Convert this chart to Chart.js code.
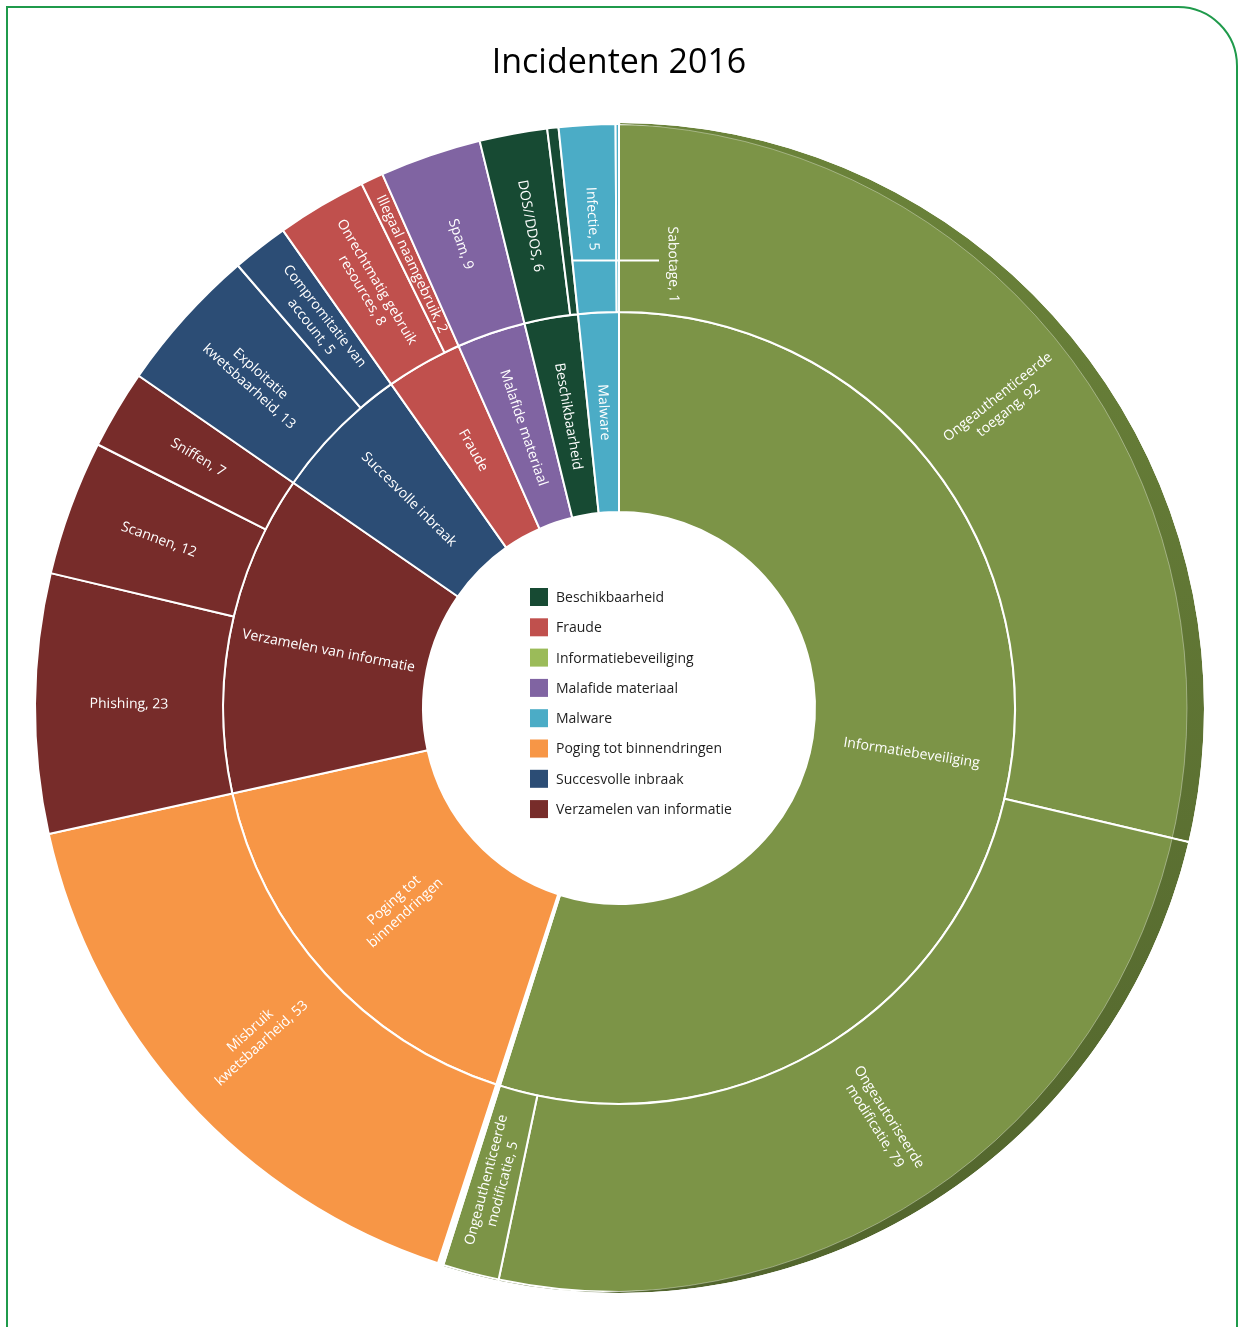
<!DOCTYPE html>
<html>
<head>
<meta charset="utf-8">
<script src="https://cdn.jsdelivr.net/npm/chart.js@4/dist/chart.umd.min.js"></script>
<style>
html,body{margin:0;padding:0;background:#fff;}
#wrap{position:relative;width:1245px;height:1327px;overflow:hidden;}
#frame{position:absolute;left:6px;top:6px;width:1232px;height:1400px;border:2px solid #1f9a4b;border-top-right-radius:60px;box-sizing:border-box;}
#box{position:absolute;left:0;top:0;width:1245px;height:1327px;}
</style>
</head>
<body>
<div id="wrap">
  <div id="frame"></div>
  <div id="box"><canvas id="c"></canvas></div>
</div>
<script>
// ---- data ----
const chartTitle = 'Incidenten 2016';

// inner ring categories (clockwise from top); '\n' marks a line break in the ring label
const innerNames = ['Informatiebeveiliging', '', 'Poging tot\nbinnendringen', 'Verzamelen van informatie',
  'Succesvolle inbraak', 'Fraude', 'Malafide materiaal', 'Beschikbaarheid', 'Malware'];

// outer ring sub-categories (clockwise from top)
const subNames = ['Ongeauthenticeerde\ntoegang', 'Ongeautoriseerde\nmodificatie', 'Ongeauthenticeerde\nmodificatie', '',
  'Misbruik\nkwetsbaarheid', 'Phishing', 'Scannen', 'Sniffen',
  'Exploitatie\nkwetsbaarheid', 'Compromitatie van\naccount',
  'Onrechtmatig gebruik\nresources', 'Illegaal naamgebruik',
  'Spam', 'DOS//DDOS', 'Sabotage', 'Infectie', ''];
const subValues = [92, 79, 5, 0.5, 53, 23, 12, 7, 13, 5, 8, 2, 9, 6, 1, 5, 0.3];
const subParent = [0, 0, 0, 1, 2, 3, 3, 3, 4, 4, 5, 5, 6, 7, 7, 8, 8];

// ---- styles ----
const sliceColors = ['#7C9447', '#FFFFFF', '#F79646', '#772C2A', '#2C4D75', '#C0504D', '#8064A2', '#174A33', '#4BACC6'];
const legendColors = ['#9BBB59', null, '#F79646', '#772C2A', '#2C4D75', '#C0504D', '#8064A2', '#174A33', '#4BACC6'];
const FONT = "'Open Sans', 'Noto Sans', sans-serif";

// inner values are the sums of their sub-categories
const innerValues = innerNames.map((_, k) =>
  subValues.reduce((s, v, i) => s + (subParent[i] === k ? v : 0), 0));
const subLabels = subNames.map((n, i) => n ? n + ', ' + subValues[i] : '');

function norm(a){ while (a > Math.PI) a -= 2*Math.PI; while (a < -Math.PI) a += 2*Math.PI; return a; }

function drawRingLabel(ctx, arc, text){
  if (!text) return;
  const p = arc.getProps(['x','y','startAngle','endAngle','innerRadius','outerRadius'], true);
  const mid = (p.startAngle + p.endAngle) / 2;
  const r = (p.innerRadius + p.outerRadius) / 2;
  const lines = text.split('\n');
  ctx.save();
  ctx.translate(p.x + r*Math.cos(mid), p.y + r*Math.sin(mid));
  let rot = norm(mid);
  if (Math.abs(rot) > Math.PI/2) rot = norm(rot + Math.PI);
  ctx.rotate(rot);
  ctx.fillStyle = '#ffffff';
  ctx.font = '14px ' + FONT;
  ctx.textAlign = 'center';
  ctx.textBaseline = 'middle';
  const lh = 17;
  lines.forEach((l, j) => ctx.fillText(l, 0, (j - (lines.length-1)/2) * lh));
  ctx.restore();
}

function drawCallout(ctx, arc, text){
  const p = arc.getProps(['x','y','startAngle','endAngle','innerRadius','outerRadius'], true);
  const mid = (p.startAngle + p.endAngle) / 2;
  const r0 = p.innerRadius + (p.outerRadius - p.innerRadius) * 0.29;
  const sx = p.x + r0*Math.cos(mid), sy = p.y + r0*Math.sin(mid);
  const ex = p.x + 40;
  ctx.save();
  ctx.strokeStyle = '#ffffff';
  ctx.lineWidth = 2;
  ctx.beginPath(); ctx.moveTo(sx + 4, sy); ctx.lineTo(ex, sy); ctx.stroke();
  ctx.translate(ex + 14, sy + 4);
  ctx.rotate(Math.PI/2 - 0.02);
  ctx.fillStyle = '#ffffff';
  ctx.font = '14px ' + FONT;
  ctx.textAlign = 'center';
  ctx.textBaseline = 'middle';
  ctx.fillText(text, 0, 0);
  ctx.restore();
}

const bandPlugin = {
  id: 'band',
  afterDatasetsDraw(chart){
    const meta = chart.getDatasetMeta(0);
    const ctx = chart.ctx;
    const d = 16;
    meta.data.forEach((arc, i) => {
      if (subParent[i] !== 0) return;
      const p = arc.getProps(['x','y','startAngle','endAngle','innerRadius','outerRadius'], true);
      ctx.save();
      ctx.beginPath();
      ctx.arc(p.x, p.y, p.outerRadius + 1, p.startAngle + 0.002, p.endAngle - 0.002);
      ctx.arc(p.x, p.y, p.innerRadius, p.endAngle - 0.002, p.startAngle + 0.002, true);
      ctx.closePath();
      ctx.clip();
      const g = ctx.createLinearGradient(0, p.y - p.outerRadius, 0, p.y + p.outerRadius);
      g.addColorStop(0, '#6B833A');
      g.addColorStop(1, '#52652D');
      ctx.fillStyle = g;
      ctx.beginPath();
      ctx.arc(p.x, p.y, p.outerRadius + 1, 0, Math.PI*2);
      ctx.moveTo(p.x - d + p.outerRadius, p.y);
      ctx.arc(p.x - d, p.y, p.outerRadius, 0, Math.PI*2);
      ctx.fill('evenodd');
      ctx.strokeStyle = 'rgba(255,255,255,0.35)';
      ctx.lineWidth = 1;
      ctx.beginPath();
      ctx.arc(p.x - d, p.y, p.outerRadius, 0, Math.PI*2);
      ctx.stroke();
      ctx.restore();
    });
  }
};

const labelPlugin = {
  id: 'ringLabels',
  afterDatasetsDraw(chart){
    const ctx = chart.ctx;
    const outer = chart.getDatasetMeta(0);
    const inner = chart.getDatasetMeta(1);
    outer.data.forEach((arc, i) => {
      const txt = subLabels[i];
      if (!txt) return;
      const span = arc.endAngle - arc.startAngle;
      if (span < 0.035) drawCallout(ctx, arc, txt.replace('\n', ' '));
      else drawRingLabel(ctx, arc, txt);
    });
    inner.data.forEach((arc, i) => drawRingLabel(ctx, arc, innerNames[i]));
  }
};

const legendPlugin = {
  id: 'centerLegend',
  afterDraw(chart){
    const ctx = chart.ctx;
    const arc = chart.getDatasetMeta(1).data[0];
    const cx = arc.x, cy = arc.y;
    const items = innerNames.map((n, i) => ({name: n.replace('\n', ' '), color: legendColors[i]}))
      .filter(it => it.name)
      .sort((a, b) => a.name.localeCompare(b.name));
    const x0 = cx - 89;
    const y0 = cy - 111;
    const step = 30.3;
    ctx.save();
    ctx.font = '14px ' + FONT;
    ctx.textBaseline = 'middle';
    ctx.textAlign = 'left';
    items.forEach((it, k) => {
      const y = y0 + k*step;
      ctx.fillStyle = it.color;
      ctx.fillRect(x0, y - 9, 18, 18);
      ctx.fillStyle = '#1e1e1e';
      ctx.fillText(it.name, x0 + 26, y + 1);
    });
    ctx.restore();
  }
};

new Chart(document.getElementById('c'), {
  type: 'doughnut',
  data: {
    labels: subLabels,
    datasets: [
      {
        label: 'Subcategorie',
        data: subValues,
        backgroundColor: subParent.map(k => sliceColors[k]),
        borderColor: '#ffffff',
        borderWidth: 2,
        weight: 188
      },
      {
        label: 'Categorie',
        data: innerValues,
        backgroundColor: sliceColors,
        borderColor: '#ffffff',
        borderWidth: 2,
        weight: 200
      }
    ]
  },
  options: {
    responsive: true,
    maintainAspectRatio: false,
    animation: false,
    cutout: 196,
    layout: { padding: { left: 34, right: 41, top: 0, bottom: 34 } },
    plugins: {
      legend: { display: false },
      tooltip: { enabled: false },
      title: {
        display: true,
        text: chartTitle,
        color: '#000000',
        font: { family: FONT, size: 34, weight: 'normal' },
        padding: { top: 43, bottom: 39.2 }
      }
    }
  },
  plugins: [bandPlugin, labelPlugin, legendPlugin]
});
</script>
</body>
</html>
